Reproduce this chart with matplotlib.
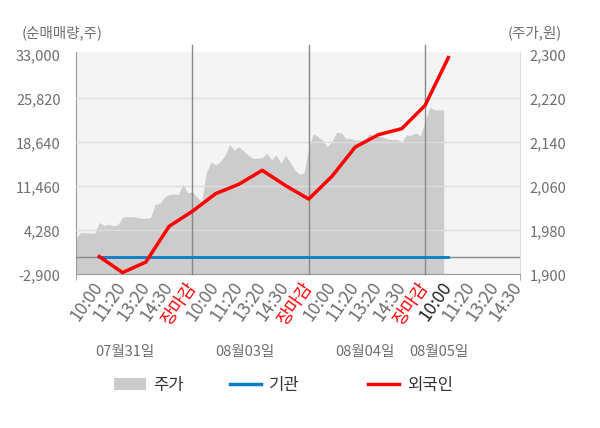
import numpy as np
import matplotlib
matplotlib.use("Agg")
import matplotlib.pyplot as plt
from matplotlib.patches import Patch
from matplotlib.lines import Line2D

plt.rcParams["font.family"] = ["Noto Sans CJK KR", "DejaVu Sans"]

# ---- data ----
days = ["07월31일", "08월03일", "08월04일", "08월05일"]
slot_labels = ["10:00", "11:20", "13:20", "14:30", "장마감"]

# stock price, sampled every 0.2 label slots from the first day's open
price = [
    1966, 1976, 1976, 1975, 1975, 1994, 1989, 1991, 1988, 1990,
    2004, 2005, 2005, 2004, 2002, 2002, 2003, 2027, 2029, 2040,
    2045, 2046, 2045, 2064, 2048, 2050, 2040, 2032, 2085, 2104,
    2099, 2105, 2116, 2136, 2126, 2132, 2124, 2117, 2111, 2111,
    2112, 2120, 2108, 2117, 2102, 2116, 2104, 2090, 2082, 2084,
    2130, 2156, 2150, 2144, 2132, 2142, 2158, 2157, 2147, 2147,
    2144, 2144, 2144, 2155, 2152, 2151, 2149, 2146, 2145, 2145,
    2141, 2153, 2153, 2157, 2152, 2178, 2204, 2199, 2199, 2199,
]
price_step = 0.2

# cumulative net buying at each label slot (10:00 ... 장마감 per day)
foreign = [0, -2620, -900, 4930, 7380, 10260, 11800, 14070, 11590,
           9380, 13100, 17870, 19890, 20870, 24670, 32460]
institution = [0] * 16

left_ticks = [-2900, 4280, 11460, 18640, 25820, 33000]
right_ticks = [1900, 1980, 2060, 2140, 2220, 2300]

GRAY_TXT = "#6e6e6e"

fig = plt.figure(figsize=(6, 4.28), dpi=100)
base = fig.add_axes([0.1267, 0.3591, 0.74, 0.5194])
ax = base.twinx()
ax.set_zorder(base.get_zorder() + 1)
ax.patch.set_visible(False)
base.set_facecolor("#f4f4f4")

# price area on the base axes (right scale)
px = np.arange(len(price)) * price_step
base.fill_between(px, right_ticks[0], price, color="#cccccc", lw=0)

# grid, zero line, day separators
for v in left_ticks[1:-1]:
    ax.axhline(v, color="#dddddd", lw=1, zorder=1)
ax.axhline(0, color="#888888", lw=1, zorder=2)
n_days = len(days)
for d in range(1, n_days):
    ax.axvline(d * 5, ymin=0, ymax=1.03, color="#888888", lw=1,
               clip_on=False, zorder=2)

slots = np.arange(1, len(foreign) + 1)
ax.plot(slots, institution, color="#0a7cc6", lw=2.0, zorder=4)
ax.plot(slots, foreign, color="#ff0000", lw=2.5, zorder=5)

xmax = 19.08
base.set_xlim(0, xmax)

pad_l = (left_ticks[-1] - left_ticks[0]) * 0.0105
pad_r = (right_ticks[-1] - right_ticks[0]) * 0.0105
ax.set_ylim(left_ticks[0], left_ticks[-1] + pad_l)
base.set_ylim(right_ticks[0], right_ticks[-1] + pad_r)

# the twin sits on top, so swap which side shows which scale
ax.yaxis.tick_left()
base.yaxis.tick_right()
ax.set_yticks(left_ticks)
ax.set_yticklabels([f"{v:,}" for v in left_ticks])
base.set_yticks(right_ticks)
base.set_yticklabels([f"{v:,}" for v in right_ticks])
ax.tick_params(axis="y", length=0, pad=11, labelsize=10.5,
               labelcolor=GRAY_TXT, left=True, right=False,
               labelleft=True, labelright=False)
base.tick_params(axis="y", length=0, pad=7, labelsize=10.5,
                 labelcolor=GRAY_TXT, left=False, right=True,
                 labelleft=False, labelright=True)

# x axis: label slots, tick marks only on day borders
tick_pos = []
tick_txt = []
for d in range(n_days):
    for k, s in enumerate(slot_labels):
        if d == n_days - 1 and s == "장마감":
            continue
        tick_pos.append(d * 5 + k + 1)
        tick_txt.append(s)
base.set_xticks(tick_pos)
base.set_xticklabels(tick_txt, rotation=55, ha="right", va="center",
                     rotation_mode="anchor")
base.tick_params(axis="x", length=0, pad=7, labelsize=12.5,
                 labelcolor=GRAY_TXT)
for i, lab in enumerate(base.get_xticklabels()):
    if lab.get_text() == "장마감":
        lab.set_color("#ff0000")
    elif i == len(tick_pos) - 4:
        lab.set_color("#222222")
base.set_xticks([0, 5, 10, 15, xmax], minor=True)
base.tick_params(axis="x", which="minor", length=4, color="#999999")

for a in (ax, base):
    a.spines["top"].set_visible(False)
base.spines["bottom"].set_color("#999999")
base.spines["left"].set_color("#999999")
base.spines["right"].set_color("#dddddd")
for s in ("bottom", "left", "right"):
    ax.spines[s].set_visible(False)

# date labels under the time labels
date_pos = [2.1, 7.25, 12.4, 15.6]
for xpos, txt in zip(date_pos, days):
    base.text(xpos, -0.35, txt, transform=base.get_xaxis_transform(),
              ha="center", va="center", fontsize=10.5, color=GRAY_TXT)

fig.text(0.036, 0.923, "(순매매량,주)", ha="left", va="center",
         fontsize=10.5, color=GRAY_TXT)
fig.text(0.936, 0.923, "(주가,원)", ha="right", va="center",
         fontsize=10.5, color=GRAY_TXT)

# legend, one block per item
items = [
    (Patch(facecolor="#cccccc", edgecolor="none"), "주가", 0.19),
    (Line2D([], [], color="#0a7cc6", lw=2.5), "기관", 0.383),
    (Line2D([], [], color="#ff0000", lw=2.5), "외국인", 0.613),
]
for h, lab, xa in items:
    fig.legend([h], [lab], loc="center left", bbox_to_anchor=(xa, 0.1),
               frameon=False, fontsize=12, handlelength=1.9,
               handleheight=0.8, handletextpad=0.45, borderpad=0,
               borderaxespad=0, labelcolor="#333333")

fig.savefig("out.png", dpi=100)
